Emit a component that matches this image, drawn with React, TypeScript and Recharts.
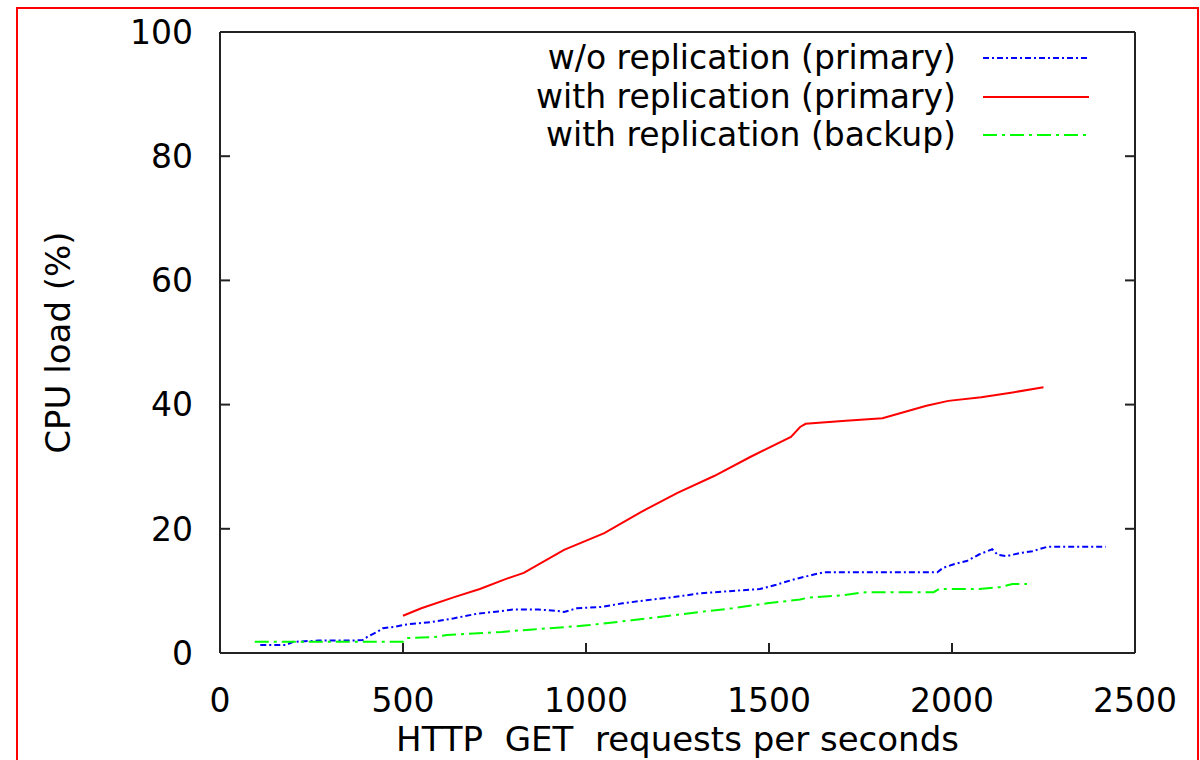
import React from "react";
import { LineChart, Line, XAxis, YAxis, Legend } from "recharts";

// w/o replication (primary)
const noReplX = [110, 180, 200, 270, 300, 360, 390, 405, 430, 445, 475, 510, 580, 640, 700, 760, 800, 870, 920, 940, 975, 1040, 1100, 1165, 1240, 1310, 1400, 1475, 1520, 1565, 1620, 1650, 1960, 1975, 2005, 2040, 2075, 2110, 2125, 2150, 2185, 2220, 2260, 2420];
const noReplY = [1.3, 1.3, 1.8, 2.0, 2.0, 2.0, 2.1, 2.7, 3.4, 4.0, 4.2, 4.6, 5.0, 5.6, 6.3, 6.7, 7.0, 7.0, 6.8, 6.6, 7.2, 7.4, 8.0, 8.5, 9.0, 9.6, 10.0, 10.3, 11.0, 11.8, 12.6, 13.0, 13.0, 13.7, 14.3, 14.8, 15.9, 16.7, 15.8, 15.6, 16.1, 16.4, 17.1, 17.1];

// with replication (primary)
const primX = [500, 550, 640, 710, 780, 830, 940, 1050, 1150, 1250, 1350, 1450, 1560, 1585, 1600, 1710, 1810, 1930, 1990, 2080, 2170, 2250];
const primY = [6, 7.2, 9, 10.3, 11.9, 12.9, 16.6, 19.3, 22.7, 25.8, 28.5, 31.6, 34.8, 36.4, 36.9, 37.4, 37.8, 39.8, 40.6, 41.2, 42, 42.8];

// with replication (backup)
const backX = [95, 500, 510, 590, 620, 770, 855, 950, 1010, 1130, 1200, 1310, 1400, 1495, 1585, 1605, 1700, 1765, 1950, 1965, 2075, 2130, 2165, 2205];
const backY = [1.8, 1.8, 2.4, 2.6, 2.9, 3.4, 3.8, 4.2, 4.5, 5.3, 5.8, 6.6, 7.2, 8.0, 8.6, 8.9, 9.3, 9.8, 9.8, 10.3, 10.3, 10.6, 11.1, 11.1];

const xTicks = [0, 500, 1000, 1500, 2000, 2500];
const yTicks = [0, 20, 40, 60, 80, 100];

const toPoints = (xs: number[], ys: number[]) => xs.map((x, i) => ({ x, y: ys[i] }));

const SERIES = [
  { name: "w/o replication (primary)", color: "#0000ff", dash: "6 3 2 3", data: toPoints(noReplX, noReplY) },
  { name: "with replication (primary)", color: "#ff0000", dash: undefined, data: toPoints(primX, primY) },
  { name: "with replication (backup)", color: "#00ff00", dash: "14 5 3 5", data: toPoints(backX, backY) },
];

const FONT = "DejaVu Sans";
const AXIS = "#222";
const TICK_LEN = 10;
const X_GAP = 36; // distance from axis line to top of x labels
const Y_GAP = 27; // distance from axis line to end of y labels

// gnuplot style: tick marks point into the plot
const BottomTick = (p: any) => {
  const axisY = p.y - X_GAP;
  return (
    <g>
      <line x1={p.x} x2={p.x} y1={axisY} y2={axisY - TICK_LEN} stroke={AXIS} strokeWidth={2} />
      <text x={p.x} y={p.y} dy="0.71em" textAnchor="middle" fontFamily={FONT} fontSize={33} fill="#000">
        {p.payload.value}
      </text>
    </g>
  );
};

const LeftTick = (p: any) => {
  const axisX = p.x + Y_GAP;
  return (
    <g>
      <line x1={axisX} x2={axisX + TICK_LEN} y1={p.y} y2={p.y} stroke={AXIS} strokeWidth={2} />
      <text x={p.x} y={p.y} dy="0.355em" textAnchor="end" fontFamily={FONT} fontSize={33} fill="#000">
        {p.payload.value}
      </text>
    </g>
  );
};

const TopTick = (p: any) => (
  <line x1={p.x} x2={p.x} y1={p.y} y2={p.y + TICK_LEN} stroke={AXIS} strokeWidth={2} />
);

const RightTick = (p: any) => (
  <line x1={p.x} x2={p.x - TICK_LEN} y1={p.y} y2={p.y} stroke={AXIS} strokeWidth={2} />
);

const renderLegend = () => (
  <div style={{ fontFamily: FONT, fontSize: 33, color: "#000" }}>
    {SERIES.map((s) => (
      <div key={s.name} style={{ display: "flex", alignItems: "center", height: 38.5 }}>
        <span style={{ width: 476, textAlign: "right", whiteSpace: "nowrap", lineHeight: "38px" }}>{s.name}</span>
        <svg width={106} height={10} style={{ marginLeft: 27 }}>
          <line x1={0} y1={5} x2={106} y2={5} stroke={s.color} strokeWidth={2} strokeDasharray={s.dash} />
        </svg>
      </div>
    ))}
  </div>
);

const YTitle = (props: any) => {
  const vb = props.viewBox || { y: 32, height: 621 };
  const cy = vb.y + vb.height / 2;
  return (
    <text x={70} y={cy} transform={`rotate(-90, 70, ${cy})`} textAnchor="middle" fontFamily={FONT} fontSize={34} fill="#000">
      CPU load (%)
    </text>
  );
};

const XTitle = (props: any) => {
  const vb = props.viewBox || { x: 220, width: 915 };
  return (
    <text x={vb.x + vb.width / 2} y={751} textAnchor="middle" fontFamily={FONT} fontSize={34} fill="#000" style={{ whiteSpace: "pre" }}>
      {"HTTP  GET  requests per seconds"}
    </text>
  );
};

export default function App() {
  return (
    <div style={{ position: "absolute", left: 0, top: 0, width: 1200, height: 760, overflow: "hidden", background: "#fff" }}>
      <div
        style={{
          position: "absolute",
          left: 16,
          top: 7,
          width: 1183,
          height: 800,
          border: "2px solid #ff0000",
          boxSizing: "border-box",
        }}
      />
      <div style={{ position: "absolute", left: 0, top: 0 }}>
        <LineChart width={1200} height={760} margin={{ top: 31, right: 64, bottom: 0, left: 0 }}>
          <XAxis
            dataKey="x"
            type="number"
            domain={[0, 2500]}
            ticks={xTicks}
            allowDataOverflow
            height={107}
            tick={BottomTick}
            tickLine={false}
            tickSize={0}
            tickMargin={X_GAP}
            stroke={AXIS}
            strokeWidth={2}
            label={{ content: XTitle }}
          />
          <XAxis
            xAxisId="top"
            orientation="top"
            type="number"
            domain={[0, 2500]}
            ticks={xTicks.slice(1, -1)}
            allowDataOverflow
            height={1}
            tick={TopTick}
            tickLine={false}
            tickSize={0}
            tickMargin={0}
            stroke={AXIS}
            strokeWidth={2}
          />
          <YAxis
            type="number"
            domain={[0, 100]}
            ticks={yTicks}
            allowDataOverflow
            width={220}
            tick={LeftTick}
            tickLine={false}
            tickSize={0}
            tickMargin={Y_GAP}
            stroke={AXIS}
            strokeWidth={2}
            label={{ content: YTitle }}
          />
          <YAxis
            yAxisId="right"
            orientation="right"
            type="number"
            domain={[0, 100]}
            ticks={yTicks.slice(1, -1)}
            allowDataOverflow
            width={1}
            tick={RightTick}
            tickLine={false}
            tickSize={0}
            tickMargin={0}
            stroke={AXIS}
            strokeWidth={2}
          />
          <Legend
            layout="vertical"
            align="center"
            verticalAlign="middle"
            content={renderLegend}
            wrapperStyle={{ left: 480, top: 39, width: 640, height: 120 }}
          />
          {SERIES.map((s) => (
            <Line
              key={s.name}
              data={s.data}
              dataKey="y"
              name={s.name}
              type="linear"
              stroke={s.color}
              strokeWidth={2}
              strokeDasharray={s.dash}
              dot={false}
              activeDot={false}
              isAnimationActive={false}
            />
          ))}
        </LineChart>
      </div>
    </div>
  );
}
